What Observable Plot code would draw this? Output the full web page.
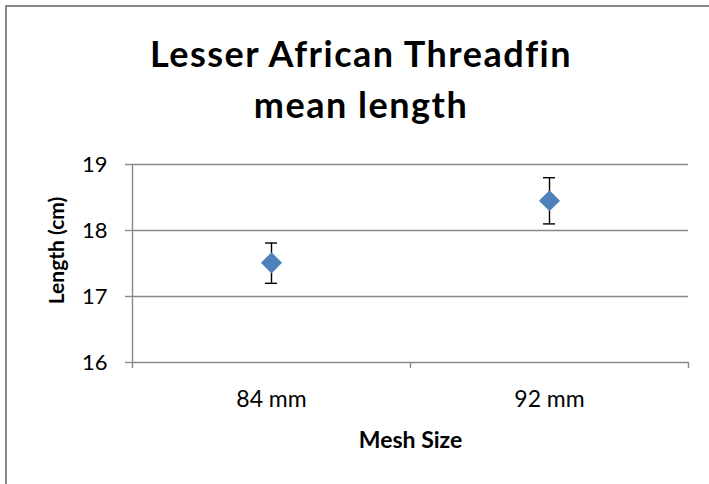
<!DOCTYPE html>
<html>
<head>
<meta charset="utf-8">
<script src="https://cdn.jsdelivr.net/npm/d3@7"></script>
<script src="https://cdn.jsdelivr.net/npm/@observablehq/plot@0.6"></script>
<style>
  html, body { margin: 0; padding: 0; background: #fff; }
  #wrap { position: relative; width: 709px; height: 484px; overflow: hidden; background: #fff; font-family: Lato, "Open Sans", sans-serif; }
  #frame { position: absolute; left: 5px; top: 5px; width: 720px; height: 500px; border-left: 2px solid #898989; border-top: 2px solid #898989; box-sizing: border-box; }
  .title { position: absolute; left: 0; width: 722px; text-align: center; font-weight: bold; font-size: 36px; line-height: 36px; letter-spacing: 1.5px; color: #000; white-space: nowrap; }
  #chart { position: absolute; left: 0; top: 0; }
</style>
</head>
<body>
<div id="wrap">
  <div id="frame"></div>
  <div class="title" style="top:35px;">Lesser African Threadfin</div>
  <div class="title" style="top:86px;">mean length</div>
  <div id="chart"></div>
</div>
<script>
const meshSizes = ["84 mm", "92 mm"];
const meanLength = [17.51, 18.45];
const lowerBound = [17.20, 18.10];
const upperBound = [17.81, 18.80];
const yTicks = [16, 17, 18, 19];
const gridValues = [17, 18, 19];

const rows = meshSizes.map((m, i) => ({
  mesh: m, pos: i + 0.5, mean: meanLength[i], lo: lowerBound[i], hi: upperBound[i]
}));
const boundaries = d3.range(meshSizes.length + 1);

const gray = "#898989";
const chart = Plot.plot({
  width: 709,
  height: 484,
  marginLeft: 132,
  marginRight: 21,
  marginTop: 164,
  marginBottom: 122,
  style: { fontFamily: "Lato, 'Open Sans', sans-serif", color: "#000", background: "transparent", fontSize: "22px" },
  x: { type: "linear", domain: [0, meshSizes.length] },
  y: { domain: [16, 19] },
  marks: [
    Plot.ruleY(gridValues, { stroke: gray, strokeWidth: 1.4 }),
    Plot.ruleY([16], { stroke: gray, strokeWidth: 1.4 }),
    Plot.ruleX([0], { stroke: gray, strokeWidth: 1.4 }),
    Plot.axisY({ ticks: yTicks, tickSize: 7, tickPadding: 18, stroke: gray, strokeWidth: 1.4, strokeOpacity: 1, tickFormat: d => d, fontSize: 22, label: null }),
    Plot.axisX({ ticks: boundaries, tickSize: 6, tickFormat: () => "", stroke: gray, strokeWidth: 1.4, strokeOpacity: 1, label: null }),
    Plot.axisX({ ticks: rows.map(r => r.pos), tickSize: 0, tickPadding: 28, tickFormat: v => meshSizes[Math.floor(v)], fontSize: 23, label: null }),
    Plot.text(["Mesh Size"], { frameAnchor: "bottom", dy: 69, fontWeight: "bold", fontSize: 23, lineAnchor: "top" }),
    Plot.text(["Length (cm)"], { frameAnchor: "left", textAnchor: "middle", dx: -75, dy: -13, rotate: -90, fontWeight: "bold", fontSize: 21 }),
    Plot.ruleX(rows, { x: "pos", y1: "lo", y2: "hi", stroke: "#000", strokeWidth: 1.4 }),
    Plot.ruleY(rows, { y: "hi", x1: "pos", x2: "pos", insetLeft: -6, insetRight: -6, stroke: "#000", strokeWidth: 1.4 }),
    Plot.ruleY(rows, { y: "lo", x1: "pos", x2: "pos", insetLeft: -6, insetRight: -6, stroke: "#000", strokeWidth: 1.4 }),
    Plot.dot(rows, { x: "pos", y: "mean", symbol: "diamond2", r: 9.5, fill: "#4F81BD", stroke: "none" })
  ]
});
document.getElementById("chart").appendChild(chart);
</script>
</body>
</html>
